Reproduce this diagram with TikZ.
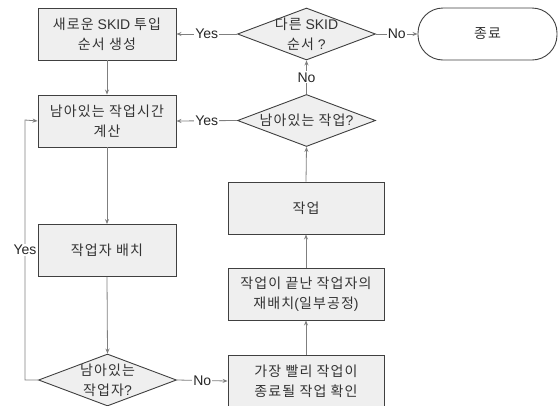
\documentclass[tikz,border=0pt]{standalone}
\usepackage{fontspec}
\setmainfont{Liberation Sans}
\newfontfamily\kr[LetterSpace=8]{Noto Sans CJK KR}
\usetikzlibrary{shapes.geometric,arrows.meta}
\definecolor{boxfill}{HTML}{EFEFEF}
\definecolor{boxline}{HTML}{404040}
\definecolor{arrline}{HTML}{7F7F7F}
\definecolor{txt}{HTML}{333333}
\tikzset{
  every node/.style={text=txt, font=\fontsize{14}{20}\selectfont},
  procbox/.style={draw=boxline, fill=boxfill, line width=0.9pt, minimum width=138, minimum height=52, inner sep=0, align=center},
  decision/.style={draw=boxline, fill=boxfill, line width=0.9pt, diamond, minimum width=138, minimum height=52, inner sep=0},
  term/.style={draw=boxline, fill=white, line width=0.9pt, rounded corners=25, minimum width=139, minimum height=52, inner sep=0},
  arr/.style={draw=arrline, line width=0.8pt, -{Stealth[length=5pt,width=4pt]}},
  lbl/.style={fill=white, inner sep=1pt, text=black!85},
  dtext/.style={align=center, font=\fontsize{14}{20}\selectfont},
}
\begin{document}
\begin{tikzpicture}[x=1pt,y=-1pt]
\useasboundingbox (0,0) rectangle (559,405);
\clip (0,0) rectangle (559,405);
\node[procbox] (b1) at (107,34) {{\kr 새로운} SKID {\kr 투입}\\{\kr 순서 생성}};
\node[decision, label={[dtext]center:{\kr 다른} SKID\\{\kr 순서} ?}] (d1) at (306.5,34) {};
\node[term] (t) at (487.5,34) {\kr 종료};
\node[procbox] (b2) at (107,121) {{\kr 남아있는 작업시간}\\{\kr 계산}};
\node[decision, label={[dtext]center:{\kr 남아있는 작업}?}] (d2) at (306.5,120.5) {};
\node[procbox] (b3) at (107,250.5) {\kr 작업자 배치};
\node[decision, label={[dtext]center:{\kr 남아있는}\\{\kr 작업자}?}] (d3) at (107.5,380) {};
\node[procbox, minimum width=156] (w) at (306,208) {\kr 작업};
\node[procbox, minimum width=156] (r) at (306,294) {{\kr 작업이 끝난 작업자의}\\{\kr 재배치}({\kr 일부공정})};
\node[procbox, minimum width=156] (f) at (306,381) {{\kr 가장 빨리 작업이}\\{\kr 종료될 작업 확인}};

\draw[arr] (d1.west) -- node[lbl]{Yes} (b1.east);
\draw[arr] (d1.east) -- node[lbl]{No} (t.west);
\draw[arr] (b1.south) -- (b2.north);
\draw[arr] (d2.west) -- node[lbl]{Yes} (b2.east);
\draw[arr] (d2.north) -- node[lbl]{No} (d1.south);
\draw[arr] (b2.south) -- (b3.north);
\draw[arr] (b3.south) -- (d3.north);
\draw[arr] (d3.east) -- node[lbl]{No} (f.west);
\draw[arr] (f.north) -- (r.south);
\draw[arr] (r.north) -- (w.south);
\draw[arr] (w.north) -- (d2.south);
\draw[arr] (d3.west) -- ++(-13,0) -- node[lbl,inner xsep=0pt]{Yes} ++(0,-260) -- (b2.west);
\end{tikzpicture}
\end{document}
